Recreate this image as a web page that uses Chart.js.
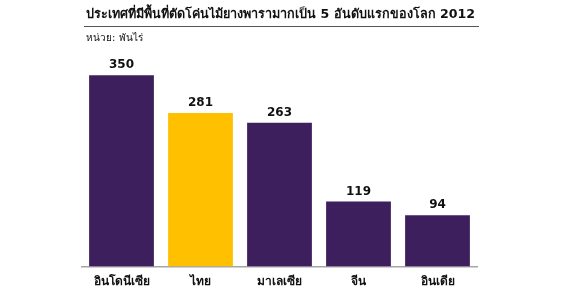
<!DOCTYPE html>
<html>
<head>
<meta charset="utf-8">
<script src="https://cdn.jsdelivr.net/npm/chart.js@4"></script>
<style>
  body { margin: 0; background: #fff; }
  #wrap { position: relative; width: 580px; height: 302px; }
</style>
</head>
<body>
<div id="wrap"><canvas id="chart" width="580" height="302"></canvas></div>
<script>
const categories = ['อินโดนีเซีย', 'ไทย', 'มาเลเซีย', 'จีน', 'อินเดีย'];
const areaValues = [350, 281, 263, 119, 94];
const barColors = ['#3d1f5e', '#ffc000', '#3d1f5e', '#3d1f5e', '#3d1f5e'];
const titleText = 'ประเทศที่มีพื้นที่ตัดโค่นไม้ยางพารามากเป็น 5 อันดับแรกของโลก 2012';
const unitText = 'หน่วย: พันไร่';

const fontFamily = "Tahoma, 'DejaVu Sans', 'Noto Sans', sans-serif";

// title, underline, unit label and value labels
const extras = {
    id: 'extras',
    afterDatasetsDraw(chart) {
        const ctx = chart.ctx;
        ctx.save();
        ctx.fillStyle = '#111';
        ctx.textBaseline = 'middle';
        ctx.textAlign = 'left';
        ctx.font = 'bold 12.6px ' + fontFamily;
        ctx.fillText(titleText, 86, 15);
        ctx.strokeStyle = '#555';
        ctx.lineWidth = 1;
        ctx.beginPath();
        ctx.moveTo(84, 26.5);
        ctx.lineTo(479, 26.5);
        ctx.stroke();
        ctx.font = '10px ' + fontFamily;
        ctx.fillText(unitText, 86, 38);

        ctx.font = 'bold 12px ' + fontFamily;
        ctx.textAlign = 'center';
        ctx.textBaseline = 'bottom';
        const meta = chart.getDatasetMeta(0);
        meta.data.forEach((bar, i) => {
            ctx.fillText(areaValues[i], bar.x, bar.y - 4);
        });
        ctx.restore();
    }
};

new Chart(document.getElementById('chart'), {
    type: 'bar',
    data: {
        labels: categories,
        datasets: [{
            data: areaValues,
            backgroundColor: barColors,
            borderWidth: 0,
            barPercentage: 0.82,
            categoryPercentage: 1
        }]
    },
    options: {
        responsive: false,
        animation: false,
        layout: { padding: { left: 82, right: 103, top: 48, bottom: 5 } },
        plugins: {
            legend: { display: false },
            tooltip: { enabled: false }
        },
        scales: {
            x: {
                grid: { display: false, drawTicks: false },
                border: { color: '#a6a6a6', width: 1.5 },
                ticks: {
                    color: '#111',
                    padding: 8,
                    font: { family: fontFamily, size: 12, weight: 'bold' }
                }
            },
            y: {
                display: false,
                min: 0,
                max: 400
            }
        }
    },
    plugins: [extras]
});
</script>
</body>
</html>
